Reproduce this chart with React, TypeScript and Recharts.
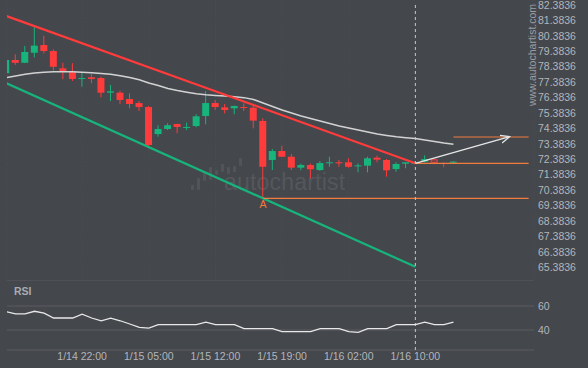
import React from 'react';
import { ComposedChart, Bar, Line, XAxis, YAxis, ReferenceLine, CartesianGrid } from 'recharts';

// ---- data ----
const openP = [77.96, 78.82, 78.64, 79.29, 79.79, 79.40, 78.28, 78.06, 77.61, 77.70, 77.65, 76.70, 76.70, 76.29, 76.03, 75.77, 74.02, 74.35, 74.67, 74.43, 74.54, 75.19, 76.03, 75.75, 75.69, 75.77, 75.73, 74.87, 72.34, 72.92, 72.55, 71.84, 72.01, 71.69, 72.14, 72.19, 72.19, 71.93, 71.97, 72.49, 72.34, 71.75, 72.10, 72.12, 72.23, 72.38, 72.14, 72.16];
const highP = [78.85, 79.19, 79.73, 81.02, 80.39, 79.51, 78.64, 78.61, 78.00, 77.91, 77.74, 77.20, 76.83, 76.66, 76.16, 75.84, 74.59, 74.72, 74.69, 74.76, 75.30, 76.81, 76.23, 75.97, 75.86, 76.01, 75.86, 75.04, 73.05, 73.26, 72.73, 72.10, 72.10, 72.27, 72.55, 72.34, 72.45, 72.12, 72.55, 72.62, 72.40, 72.19, 72.20, 72.24, 72.64, 72.39, 72.18, 72.27];
const lowP = [77.93, 78.50, 78.62, 78.99, 79.25, 78.13, 77.57, 77.46, 77.09, 77.31, 76.40, 76.16, 75.95, 75.69, 75.51, 73.20, 73.85, 74.28, 74.07, 74.28, 74.46, 74.65, 75.58, 75.36, 75.30, 75.51, 74.39, 69.85, 71.69, 72.53, 71.69, 71.67, 71.15, 71.63, 71.90, 71.90, 71.84, 71.54, 71.54, 72.19, 71.26, 71.58, 71.80, 72.11, 72.19, 72.16, 71.87, 72.14];
const closeP = [78.82, 78.64, 79.34, 79.75, 79.40, 78.38, 78.04, 77.59, 77.65, 77.59, 76.70, 76.79, 76.23, 75.97, 75.77, 73.31, 74.35, 74.59, 74.48, 74.48, 75.17, 76.03, 75.77, 75.58, 75.84, 75.73, 74.89, 71.90, 72.92, 72.55, 71.84, 72.01, 71.74, 72.14, 72.19, 72.12, 71.90, 71.99, 72.45, 72.36, 71.67, 72.08, 72.19, 72.16, 72.40, 72.16, 72.11, 72.23];
const outlinedCandles = [45];
const maP = [77.68, 77.78, 77.89, 77.97, 78.02, 78.06, 78.06, 78.05, 78.02, 78.00, 77.95, 77.89, 77.80, 77.68, 77.54, 77.33, 77.17, 76.97, 76.84, 76.73, 76.63, 76.56, 76.52, 76.49, 76.44, 76.38, 76.26, 76.03, 75.81, 75.58, 75.38, 75.19, 75.03, 74.87, 74.70, 74.54, 74.41, 74.28, 74.15, 74.02, 73.93, 73.84, 73.78, 73.73, 73.63, 73.54, 73.44, 73.36];
const rsiP = [55.3, 53.4, 53.4, 55.6, 54.0, 50.0, 50.0, 50.0, 53.2, 50.0, 47.7, 49.9, 47.7, 45.0, 42.2, 41.6, 44.4, 44.4, 44.4, 44.4, 44.4, 46.6, 44.4, 44.4, 44.4, 41.1, 41.1, 41.1, 41.1, 38.6, 38.6, 38.6, 38.6, 41.1, 41.1, 41.1, 38.6, 38.1, 41.1, 41.1, 41.1, 44.4, 44.4, 44.4, 46.6, 44.4, 44.4, 46.6];

const timeTickIdx = [8, 15, 22, 29, 36, 43];
const timeTickLabels = ['1/14 22:00', '1/15 05:00', '1/15 12:00', '1/15 19:00', '1/16 02:00', '1/16 10:00'];
const priceTicks = [65.3836, 66.3836, 67.3836, 68.3836, 69.3836, 70.3836, 71.3836, 72.3836, 73.3836, 74.3836, 75.3836, 76.3836, 77.3836, 78.3836, 79.3836, 80.3836, 81.3836, 82.3836];
const rsiTicks = [40, 60];

// annotation lines (index, price)
const resistanceLine = [{ i: 0, p: 81.68 }, { i: 43, p: 72.13 }];
const supportLine = [{ i: 0, p: 77.33 }, { i: 43, p: 65.42 }];
const levelA = [{ i: 27, p: 69.85 }, { i: 54.9, p: 69.85 }];
const levelBreak = [{ i: 43, p: 72.12 }, { i: 54.9, p: 72.12 }];
const levelTarget = [{ i: 47, p: 73.83 }, { i: 54.9, p: 73.83 }];
const forecastArrow = [{ i: 43, p: 72.12 }, { i: 52.9, p: 73.85 }];
const eventIdx = 43;

const candles = openP.map((o, i) => ({
  i,
  o,
  h: highP[i],
  l: lowP[i],
  c: closeP[i],
  range: [lowP[i], highP[i]],
  ma: maP[i],
}));
const rsiData = rsiP.map((r, i) => ({ i, r }));

// ---- styling ----
const BG = '#44474c';
const GREEN = '#17b47c';
const RED = '#ff3b3b';
const ORANGE = '#f27c3e';
const TXT = '#b3b6bb';
const FONT = '"Liberation Sans", Arial, sans-serif';
const X_DOMAIN: [number, number] = [0.105, 55.462];
const Y_DOMAIN: [number, number] = [64.5611, 82.7076];
const RSI_DOMAIN: [number, number] = [23.33, 81.67];

const Candle = (props: any) => {
  const { x, y, width, height, payload, index } = props;
  if (!payload || height == null) return null;
  const { o, h, l, c } = payload;
  const span = h - l;
  const k = span > 0 ? height / span : 0;
  const cx = x + width / 2;
  const yO = y + (h - o) * k;
  const yC = y + (h - c) * k;
  const up = c >= o;
  const color = up ? GREEN : RED;
  const top = Math.min(yO, yC);
  const bh = Math.max(1, Math.abs(yO - yC));
  const hollow = outlinedCandles.includes(payload.i ?? index);
  return (
    <g>
      <line x1={cx} x2={cx} y1={y} y2={y + height} stroke={color} strokeWidth={1} />
      {hollow ? (
        <rect x={x + 0.5} y={top + 0.5} width={width - 1} height={Math.max(1, bh - 1)} fill={BG} stroke={color} strokeWidth={1} />
      ) : (
        <rect x={x} y={top} width={width} height={bh} fill={color} />
      )}
    </g>
  );
};

const ALabel = (props: any) => {
  const { x, y, index } = props;
  if (index !== 0) return null;
  return (
    <text x={x} y={y + 10} textAnchor="middle" fill={ORANGE} fontSize={10.5} fontFamily={FONT}>
      A
    </text>
  );
};

const iconBars = [
  [191, 185, 5], [197, 178, 12], [203, 173, 8], [209, 167, 13], [215, 170, 5],
  [221, 164, 8], [227, 167, 7], [233, 166, 6], [239, 158, 8],
];

export default function App() {
  return (
    <div style={{ position: 'absolute', left: 0, top: 0, width: 588, height: 368, background: BG, overflow: 'hidden', fontFamily: FONT }}>
      <svg width={0} height={0} style={{ position: 'absolute' }}>
        <defs>
          <marker id="arrowHead" viewBox="0 0 10 10" refX="9" refY="5" markerWidth="10" markerHeight="10" markerUnits="userSpaceOnUse" orient="auto">
            <path d="M0,1 L9,5 L0,9" fill="none" stroke="#e6e6e6" strokeWidth={1.3} />
          </marker>
        </defs>
      </svg>

      {/* faint logo watermark */}
      {iconBars.map(([x, t, h], k) => (
        <div key={k} style={{ position: 'absolute', left: x, top: t, width: 3, height: h, background: '#515459', borderRadius: 1 }} />
      ))}
      <div style={{ position: 'absolute', left: 224, top: 171, fontSize: 23, lineHeight: '23px', color: '#54575c', fontFamily: FONT, letterSpacing: 0.2 }}>
        autochartist
      </div>

      <div style={{ position: 'absolute', left: 0, top: 0 }}>
        <ComposedChart width={588} height={280} data={candles} margin={{ top: 0, right: 0, bottom: 0, left: 7 }}>
          <CartesianGrid horizontal={false} vertical stroke="#4c4f54" strokeDasharray="1 2" />
          <XAxis type="number" dataKey="i" domain={X_DOMAIN} ticks={timeTickIdx.slice(0, -1)} interval={0} hide allowDataOverflow />
          <YAxis
            orientation="right"
            domain={Y_DOMAIN}
            ticks={priceTicks}
            interval={0}
            width={54}
            axisLine={false}
            tickLine={false}
            tickSize={0}
            tickMargin={4}
            allowDataOverflow
            tick={{ fill: TXT, fontSize: 10.5, fontFamily: FONT }}
            tickFormatter={(v: number) => v.toFixed(4)}
          />
          <Line data={candles} dataKey="ma" stroke="#d2d2d2" strokeWidth={1.5} dot={false} isAnimationActive={false} />
          <Bar dataKey="range" barSize={7} shape={<Candle />} isAnimationActive={false} />
          <Line data={resistanceLine} dataKey="p" stroke={RED} strokeWidth={2.2} dot={false} isAnimationActive={false} />
          <Line data={supportLine} dataKey="p" stroke={GREEN} strokeWidth={2.2} dot={false} isAnimationActive={false} />
          <Line data={levelA} dataKey="p" stroke={ORANGE} strokeWidth={1.2} dot={false} label={<ALabel />} isAnimationActive={false} />
          <Line data={levelBreak} dataKey="p" stroke={ORANGE} strokeWidth={1.2} dot={false} isAnimationActive={false} />
          <Line data={levelTarget} dataKey="p" stroke={ORANGE} strokeWidth={1.2} dot={false} isAnimationActive={false} />
          <Line data={forecastArrow} dataKey="p" stroke="#e6e6e6" strokeWidth={1.4} dot={false} markerEnd="url(#arrowHead)" isAnimationActive={false} />
          <ReferenceLine
            segment={[{ x: eventIdx, y: priceTicks[priceTicks.length - 1] }, { x: eventIdx, y: Y_DOMAIN[0] }]}
            stroke="#c9c9c9"
            strokeDasharray="3 3"
          />
        </ComposedChart>
      </div>

      <div style={{ position: 'absolute', left: 532, top: 55, transform: 'translate(-50%, -50%) rotate(-90deg)', whiteSpace: 'nowrap', fontSize: 10.5, color: '#9a9da2', fontFamily: FONT }}>
        www.autochartist.com
      </div>

      <div style={{ position: 'absolute', left: 0, top: 280 }}>
        <ComposedChart width={588} height={88} data={rsiData} margin={{ top: 0, right: 0, bottom: 0, left: 7 }}>
          <CartesianGrid horizontal vertical={false} stroke="#5a5d62" />
          <XAxis
            type="number"
            dataKey="i"
            domain={X_DOMAIN}
            allowDataOverflow
            ticks={timeTickIdx}
            interval={0}
            height={18}
            axisLine={false}
            tickLine={false}
            tickSize={0}
            tickMargin={3}
            tick={{ fill: TXT, fontSize: 10.5, fontFamily: FONT }}
            tickFormatter={(v: number) => timeTickLabels[timeTickIdx.indexOf(v)] ?? ''}
          />
          <YAxis
            orientation="right"
            domain={RSI_DOMAIN}
            ticks={rsiTicks}
            interval={0}
            width={54}
            axisLine={false}
            tickLine={false}
            tickSize={0}
            tickMargin={4}
            allowDataOverflow
            tick={{ fill: TXT, fontSize: 10.5, fontFamily: FONT }}
          />
          <ReferenceLine x={eventIdx} stroke="#c9c9c9" strokeDasharray="3 3" />
          <Line dataKey="r" stroke="#e8e8e8" strokeWidth={1.3} dot={false} isAnimationActive={false} />
        </ComposedChart>
      </div>

      <div style={{ position: 'absolute', left: 14, top: 285, fontSize: 10.5, fontWeight: 'bold', color: '#a9acb1', fontFamily: FONT }}>
        RSI
      </div>
    </div>
  );
}
